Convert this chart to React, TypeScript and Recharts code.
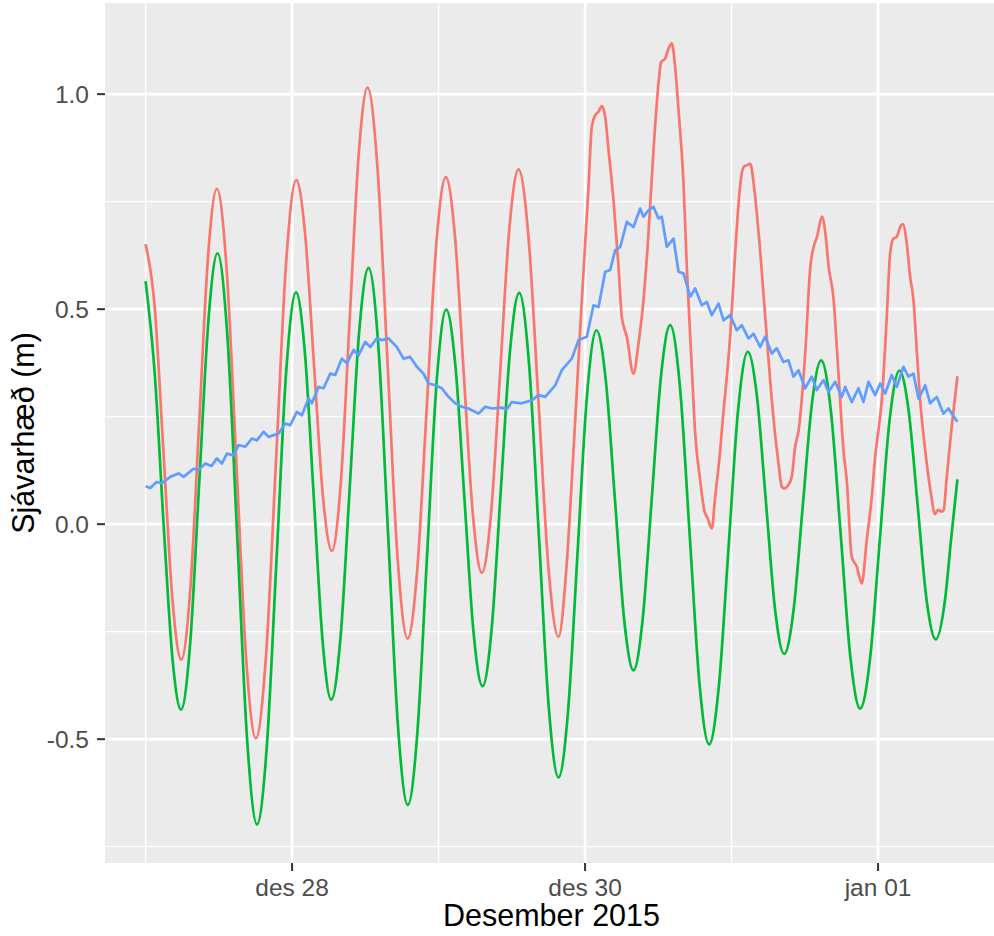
import { LineChart, Line, XAxis, YAxis, CartesianGrid } from 'recharts'

// hours since des 27 00:00
const tideHours = [
  0, 1.5, 3, 4.4, 5.81, 7.31, 8.8, 10.3, 11.79, 13.41, 15.03, 16.64, 18.26, 19.86, 21.46, 23.05,
  24.65, 26.09, 27.54, 28.98, 30.42, 31.95, 33.48, 35.0, 36.53, 38.14, 39.75, 41.35, 42.96, 44.53,
  46.1, 47.68, 49.25, 50.74, 52.23, 53.71, 55.2, 56.7, 58.2, 59.71, 61.21, 62.82, 64.43, 66.04,
  67.65, 69.2, 70.76, 72.31, 73.87, 75.39, 76.9, 78.42, 79.93, 81.43, 82.94, 84.44, 85.94, 87.54,
  89.14, 90.73, 92.33, 93.91, 95.5, 97.08, 98.66, 100.15, 101.64, 103.13, 104.62, 106.14, 107.65,
  109.17, 110.68, 112.28, 113.88, 115.47, 117.07, 118.68, 120.29, 121.89, 123.5, 124.99, 126.48,
  127.96, 129.45, 130.95, 132, 133,
]
const tideLevels = [
  0.565, 0.35, -0.012, -0.312, -0.431, -0.276, 0.1, 0.475, 0.63, 0.435, -0.034, -0.503, -0.698,
  -0.517, -0.08, 0.358, 0.539, 0.4, 0.066, -0.269, -0.408, -0.261, 0.094, 0.449, 0.596, 0.413,
  -0.029, -0.47, -0.653, -0.484, -0.077, 0.33, 0.499, 0.371, 0.061, -0.249, -0.377, -0.243, 0.08,
  0.404, 0.538, 0.373, -0.026, -0.424, -0.589, -0.437, -0.069, 0.299, 0.451, 0.335, 0.056, -0.224,
  -0.34, -0.222, 0.062, 0.345, 0.463, 0.32, -0.025, -0.369, -0.512, -0.378, -0.056, 0.267, 0.401,
  0.298, 0.05, -0.199, -0.302, -0.202, 0.04, 0.281, 0.381, 0.262, -0.024, -0.31, -0.429, -0.314,
  -0.036, 0.242, 0.357, 0.266, 0.045, -0.177, -0.268, -0.178, -0.03, 0.104,
]

const observedHours = [
  0, 1.46, 2.93, 4.39, 5.85, 7.31, 8.77, 10.22, 11.68, 13.28, 14.88, 16.47, 18.07, 19.72, 21.38,
  23.03, 24.68, 26.14, 27.6, 29.06, 30.52, 31.98, 33.44, 34.9, 36.36, 38.0, 39.64, 41.28, 42.92,
  44.49, 46.06, 47.62, 49.19, 50.67, 52.14, 53.62, 55.09, 56.59, 58.1, 59.6, 61.1, 62.74, 64.38,
  66.01, 67.65, 69.0, 70.11, 71.47, 72.56, 73.1, 73.66, 74.2, 74.74, 75.3, 75.84, 76.66, 77.48,
  78.02, 78.84, 79.93, 80.75, 81.57, 82.39, 83.21, 84.03, 84.47, 85.13, 85.67, 86.21, 86.76, 87.31,
  88.13, 88.67, 89.48, 90.04, 90.86, 91.51, 92.1, 92.76, 93.31, 94.14, 94.41, 95.8, 96.62, 97.44,
  97.99, 98.53, 99.08, 99.62, 100.44, 101.52, 102.6, 103.42, 103.69, 104.23, 104.62, 105.24,
  105.86, 106.42, 107.0, 108.1, 108.9, 109.45, 109.99, 110.81, 111.37, 111.91, 112.73, 113.27,
  113.79, 114.33, 114.87, 115.69, 116.51, 117.33, 118.15, 118.97, 119.53, 120.07, 120.61, 121.43,
  121.98, 122.52, 123.06, 123.62, 124.05, 124.7, 125.26, 125.8, 126.34, 126.9, 127.72, 128.75,
  129.29, 129.84, 130.39, 130.76, 131.2, 132.01, 132.56, 133,
]
const observedLevels = [
  0.651, 0.51, 0.168, -0.174, -0.315, -0.155, 0.233, 0.62, 0.78, 0.593, 0.141, -0.311, -0.498,
  -0.308, 0.151, 0.61, 0.8, 0.674, 0.369, 0.064, -0.062, 0.096, 0.477, 0.857, 1.015, 0.827, 0.375,
  -0.078, -0.266, -0.109, 0.271, 0.65, 0.807, 0.672, 0.347, 0.022, -0.113, 0.024, 0.356, 0.688,
  0.825, 0.666, 0.282, -0.103, -0.262, -0.091, 0.172, 0.521, 0.784, 0.924, 0.951, 0.959, 0.972,
  0.947, 0.87, 0.753, 0.598, 0.482, 0.436, 0.35, 0.42, 0.521, 0.676, 0.87, 1.025, 1.075, 1.083,
  1.106, 1.118, 1.063, 0.963, 0.792, 0.598, 0.366, 0.211, 0.102, 0.033, 0.013, -0.01, 0.063, 0.172,
  0.219, 0.443, 0.637, 0.792, 0.831, 0.835, 0.838, 0.792, 0.676, 0.482, 0.288, 0.172, 0.141, 0.087,
  0.083, 0.09, 0.11, 0.18, 0.219, 0.405, 0.598, 0.645, 0.668, 0.715, 0.676, 0.598, 0.521, 0.405,
  0.288, 0.172, 0.102, -0.076, -0.099, -0.138, -0.037, 0.063, 0.157, 0.219, 0.288, 0.482, 0.63,
  0.664, 0.668, 0.691, 0.698, 0.653, 0.575, 0.521, 0.405, 0.288, 0.172, 0.063, 0.023, 0.033, 0.029,
  0.033, 0.102, 0.219, 0.288, 0.344,
]

const surgeHours = [
  0, 0.77, 1.8, 2.62, 4.05, 5.41, 6.22, 7.86, 8.68, 9.78, 10.81, 11.68, 12.5, 13.32, 14.41, 15.23,
  16.33, 17.41, 18.23, 19.33, 20.15, 21.79, 22.88, 23.7, 24.78, 25.6, 26.7, 27.24, 28.34, 29.16,
  30.25, 31.07, 32.15, 32.97, 34.07, 34.89, 35.99, 36.81, 37.89, 38.71, 39.8, 41.16, 42.26, 43.36,
  44.44, 45.54, 46.36, 47.45, 48.53, 49.63, 50.73, 51.81, 52.91, 54.55, 55.64, 56.72, 58.36, 59.18,
  60.0, 61.64, 63.28, 64.37, 65.47, 67.11, 68.19, 69.83, 70.92, 72.29, 73.38, 74.2, 75.3, 76.11,
  76.93, 77.76, 78.84, 79.93, 81.03, 81.57, 82.39, 83.21, 84.03, 84.57, 85.39, 86.49, 87.31, 88.13,
  89.22, 90.04, 91.12, 91.94, 92.76, 93.86, 94.68, 95.77, 96.85, 97.67, 98.77, 99.59, 100.69,
  101.51, 102.59, 103.41, 104.51, 105.32, 106.14, 106.96, 108.06, 109.14, 109.96, 111.06, 111.88,
  112.98, 114.06, 114.62, 115.69, 116.79, 117.61, 118.43, 119.53, 120.34, 121.16, 122.24, 123.06,
  124.16, 124.98, 125.8, 126.62, 127.72, 128.54, 129.62, 130.71, 131.53, 133,
]
const surgeLevels = [
  0.088, 0.084, 0.098, 0.095, 0.11, 0.118, 0.11, 0.129, 0.126, 0.141, 0.135, 0.153, 0.141, 0.164,
  0.16, 0.184, 0.18, 0.199, 0.195, 0.215, 0.203, 0.211, 0.234, 0.23, 0.261, 0.253, 0.292, 0.281,
  0.319, 0.316, 0.35, 0.347, 0.385, 0.374, 0.405, 0.393, 0.424, 0.412, 0.432, 0.428, 0.432, 0.412,
  0.385, 0.389, 0.366, 0.35, 0.327, 0.323, 0.316, 0.296, 0.281, 0.273, 0.269, 0.257, 0.273, 0.269,
  0.271, 0.267, 0.284, 0.281, 0.288, 0.3, 0.296, 0.323, 0.358, 0.385, 0.428, 0.436, 0.509, 0.505,
  0.587, 0.591, 0.637, 0.645, 0.703, 0.691, 0.734, 0.715, 0.73, 0.738, 0.711, 0.715, 0.645, 0.664,
  0.587, 0.583, 0.529, 0.548, 0.509, 0.517, 0.486, 0.513, 0.474, 0.486, 0.451, 0.463, 0.432, 0.443,
  0.412, 0.436, 0.397, 0.409, 0.377, 0.381, 0.343, 0.358, 0.316, 0.343, 0.312, 0.335, 0.308, 0.331,
  0.296, 0.319, 0.284, 0.316, 0.284, 0.331, 0.3, 0.327, 0.304, 0.347, 0.319, 0.366, 0.343, 0.35,
  0.292, 0.323, 0.281, 0.296, 0.257, 0.269, 0.238,
]

const xTickHours = [24, 72, 120]
const xTickLabels = ['des 28', 'des 30', 'jan 01']
const xMinorHours = [0, 48, 96]
const yTicks = [-0.5, 0, 0.5, 1.0]
const yMinor = [-0.75, -0.25, 0.25, 0.75]

const FONT = '"Liberation Sans", Arial, Helvetica, sans-serif'

function toPoints(hours: number[], levels: number[]) {
  return hours.map((t, i) => ({ t, v: levels[i] }))
}

export default function App() {
  const observed = toPoints(observedHours, observedLevels)
  const tide = toPoints(tideHours, tideLevels)
  const surge = toPoints(surgeHours, surgeLevels)

  return (
    <div
      style={{
        position: 'absolute',
        left: 0,
        top: 0,
        width: 994,
        height: 936,
        overflow: 'hidden',
        background: '#fff',
      }}
    >
      <LineChart
        width={998}
        height={936}
        margin={{ top: 3, right: 0, bottom: 0, left: 0 }}
        style={{ fontFamily: FONT }}
      >
        {/* panel background + minor grid */}
        <CartesianGrid
          fill="#EBEBEB"
          stroke="#FFFFFF"
          strokeWidth={1.3}
          horizontalValues={yMinor}
          verticalValues={xMinorHours}
        />
        {/* major grid */}
        <CartesianGrid
          stroke="#FFFFFF"
          strokeWidth={2.6}
          horizontalValues={yTicks}
          verticalValues={xTickHours}
        />

        <XAxis
          dataKey="t"
          type="number"
          domain={[-6.65, 139.65]}
          allowDataOverflow
          ticks={xTickHours}
          tickFormatter={(h) => xTickLabels[xTickHours.indexOf(h)] ?? ''}
          height={73}
          axisLine={false}
          tickSize={8}
          tickMargin={8}
          tickLine={{ stroke: '#333333', strokeWidth: 2 }}
          tick={{ fill: '#4D4D4D', fontSize: 24.5, fontFamily: FONT }}
          label={{
            value: 'Desember 2015',
            position: 'insideBottom',
            offset: 10,
            fill: '#000000',
            fontSize: 30.5,
            fontFamily: FONT,
          }}
        />

        <YAxis
          dataKey="v"
          type="number"
          domain={[-0.788, 1.212]}
          allowDataOverflow
          ticks={yTicks}
          tickFormatter={(v) => (v === 0 ? '0.0' : v.toFixed(1))}
          width={105}
          axisLine={false}
          tickSize={8}
          tickMargin={8}
          tickLine={{ stroke: '#333333', strokeWidth: 2 }}
          tick={{ fill: '#4D4D4D', fontSize: 24.5, fontFamily: FONT }}
          label={{
            value: 'Sjávarhæð (m)',
            angle: -90,
            position: 'insideLeft',
            offset: 23,
            fill: '#000000',
            fontSize: 30.5,
            fontFamily: FONT,
            style: { textAnchor: 'middle' },
          }}
        />

        <Line
          data={observed}
          dataKey="v"
          type="monotone"
          stroke="#F8766D"
          strokeWidth={2.7}
          strokeLinejoin="round"
          dot={false}
          isAnimationActive={false}
        />
        <Line
          data={tide}
          dataKey="v"
          type="monotone"
          stroke="#00BA38"
          strokeWidth={2.7}
          strokeLinejoin="round"
          dot={false}
          isAnimationActive={false}
        />
        <Line
          data={surge}
          dataKey="v"
          type="linear"
          stroke="#619CFF"
          strokeWidth={2.7}
          strokeLinejoin="round"
          dot={false}
          isAnimationActive={false}
        />
      </LineChart>
    </div>
  )
}
